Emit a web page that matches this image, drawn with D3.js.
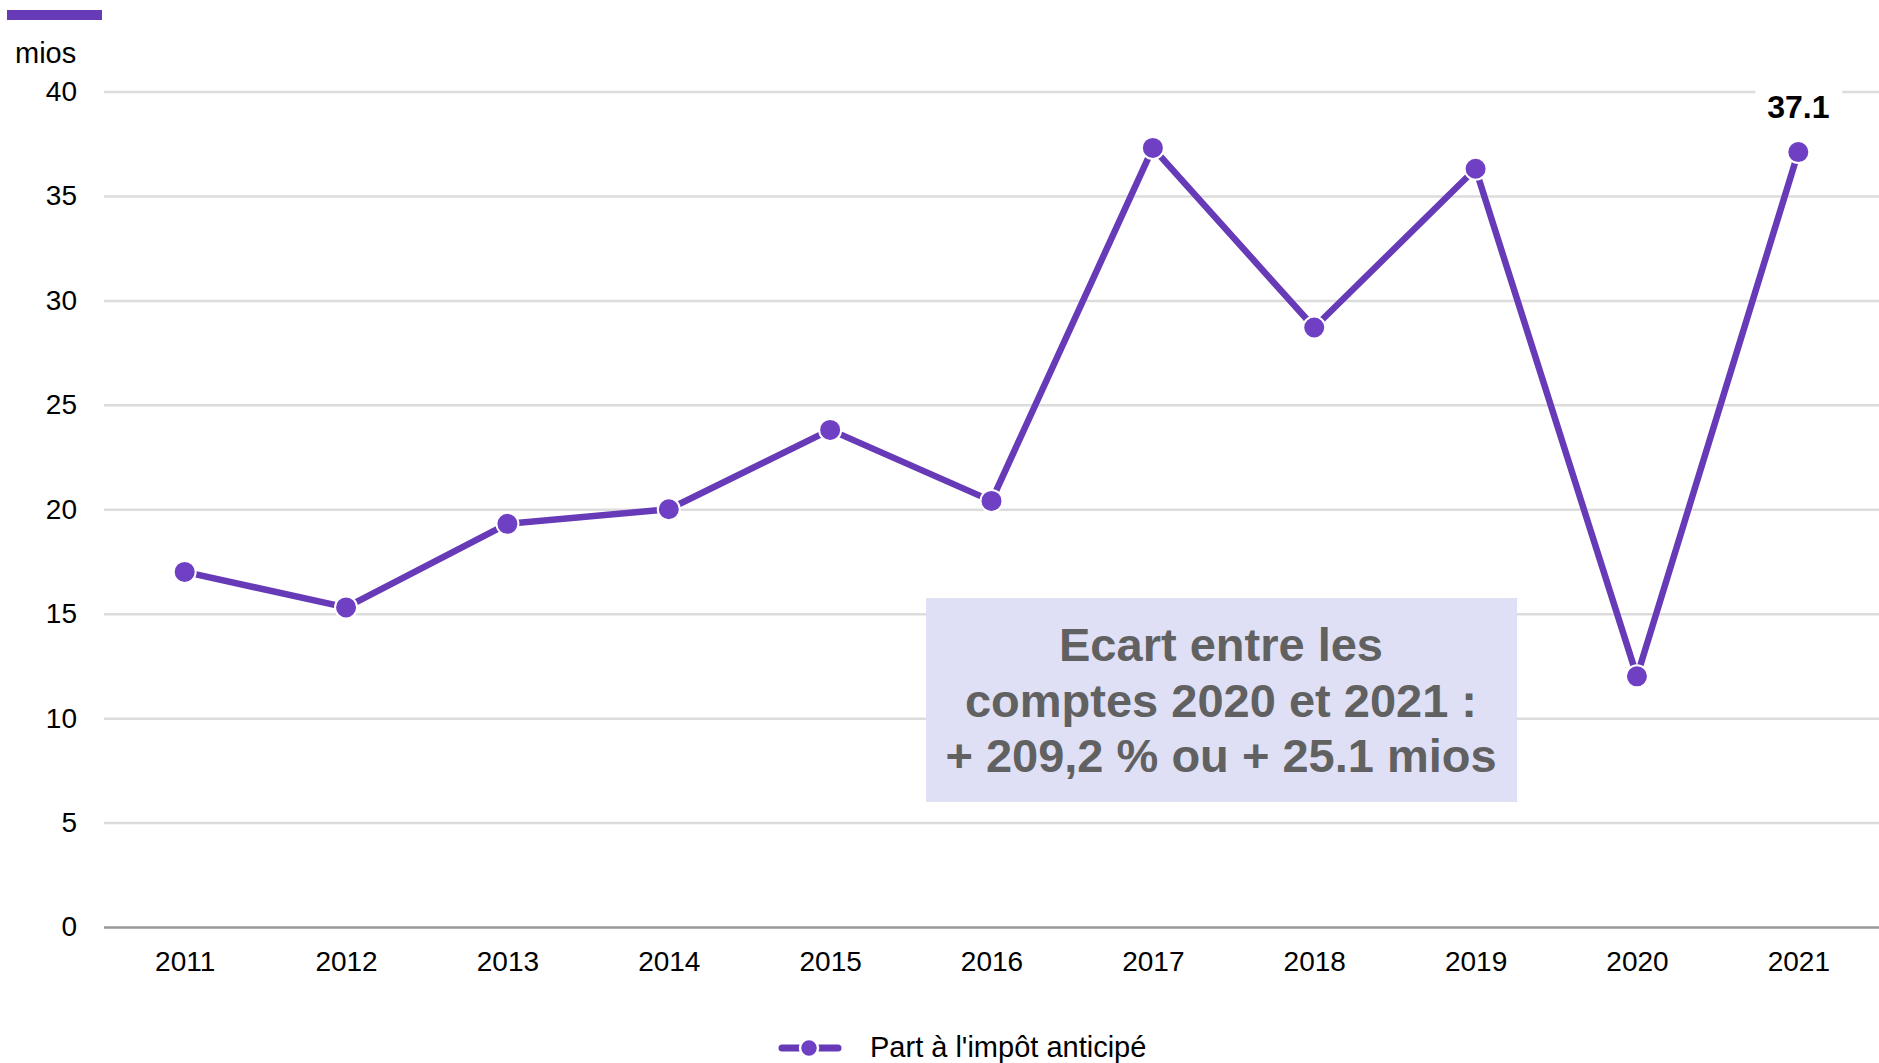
<!DOCTYPE html>
<html>
<head>
<meta charset="utf-8">
<script src="https://cdn.jsdelivr.net/npm/d3@7"></script>
<style>
    html, body { margin: 0; padding: 0; background: #fff; }
    svg { display: block; font-family: "Liberation Sans", Arial, sans-serif; }
</style>
</head>
<body>
<div id="chart"></div>
<script>
    //----- DATA ---------------------------------------//
    var years = ['2011', '2012', '2013', '2014', '2015', '2016', '2017', '2018', '2019', '2020', '2021'];
    var values = [17.0, 15.3, 19.3, 20.0, 23.8, 20.4, 37.3, 28.7, 36.3, 12.0, 37.1];
    var yTicks = [0, 5, 10, 15, 20, 25, 30, 35, 40];
    var seriesName = "Part à l'impôt anticipé";
    var unitLabel = 'mios';
    var noteLines = ['Ecart entre les', 'comptes 2020 et 2021 :', '+ 209,2 % ou + 25.1 mios'];

    //----- SETTINGS -----------------------------------//
    var WIDTH = 1879,
        HEIGHT = 1063,
        PLOT_LEFT = 104,
        PLOT_RIGHT = 1879,
        PLOT_TOP = 91.5,
        PLOT_BOTTOM = 927,
        PURPLE = '#673ab7',
        MARKER = '#7040c4',
        FONT_SIZE = 28;

    var svg = d3.select('#chart').append('svg')
        .attr('width', WIDTH)
        .attr('height', HEIGHT);

    var x = d3.scalePoint()
        .domain(years)
        .range([PLOT_LEFT, PLOT_RIGHT])
        .padding(0.5);

    var y = d3.scaleLinear()
        .domain([0, 40])
        .range([PLOT_BOTTOM, PLOT_TOP]);

    // top-left colour bar
    svg.append('rect')
        .attr('x', 7).attr('y', 10)
        .attr('width', 95).attr('height', 10)
        .attr('fill', PURPLE);

    // unit label
    svg.append('text')
        .attr('x', 15).attr('y', 63)
        .attr('font-size', 29)
        .attr('fill', '#000')
        .text(unitLabel);

    //----- GRID + Y AXIS ------------------------------//
    var yAxis = d3.axisLeft(y)
        .tickValues(yTicks)
        .tickSize(-(PLOT_RIGHT - PLOT_LEFT))
        .tickPadding(27);

    var yg = svg.append('g')
        .attr('transform', 'translate(' + PLOT_LEFT + ',0)')
        .call(yAxis);
    yg.select('.domain').remove();
    yg.selectAll('.tick line')
        .attr('stroke', function (d) { return d === 0 ? '#999' : '#dcdcdc'; })
        .attr('stroke-width', 2.5);
    yg.selectAll('.tick text')
        .attr('font-size', FONT_SIZE)
        .attr('font-family', '"Liberation Sans", Arial, sans-serif')
        .attr('fill', '#000');

    //----- X AXIS -------------------------------------//
    var xg = svg.append('g')
        .attr('transform', 'translate(0,' + PLOT_BOTTOM + ')')
        .call(d3.axisBottom(x).tickSize(0).tickPadding(24));
    xg.select('.domain').remove();
    xg.selectAll('.tick text')
        .attr('font-size', FONT_SIZE)
        .attr('font-family', '"Liberation Sans", Arial, sans-serif')
        .attr('fill', '#000');

    //----- NOTE BOX -----------------------------------//
    var note = svg.append('g');
    note.append('rect')
        .attr('x', 926).attr('y', 598)
        .attr('width', 591).attr('height', 204)
        .attr('fill', '#dfe0f5');
    note.selectAll('text')
        .data(noteLines).enter()
        .append('text')
            .attr('x', 1221)
            .attr('y', function (d, i) { return 661 + i * 55.5; })
            .attr('text-anchor', 'middle')
            .attr('font-size', 47)
            .attr('font-weight', 'bold')
            .attr('fill', '#616161')
            .text(function (d) { return d; });

    //----- LINE + MARKERS -----------------------------//
    var line = d3.line()
        .x(function (d, i) { return x(years[i]); })
        .y(function (d) { return y(d); });

    svg.append('path')
        .datum(values)
        .attr('d', line)
        .attr('fill', 'none')
        .attr('stroke', PURPLE)
        .attr('stroke-width', 6.5)
        .attr('stroke-linejoin', 'round');

    svg.selectAll('circle.point')
        .data(values).enter()
        .append('circle')
            .attr('class', 'point')
            .attr('cx', function (d, i) { return x(years[i]); })
            .attr('cy', function (d) { return y(d); })
            .attr('r', 11)
            .attr('fill', MARKER)
            .attr('stroke', '#fff')
            .attr('stroke-width', 2);

    //----- LAST VALUE LABEL ---------------------------//
    var last = values.length - 1;
    var lx = x(years[last]);
    svg.append('rect')
        .attr('x', lx - 43).attr('y', 84)
        .attr('width', 87).attr('height', 16)
        .attr('fill', '#fff');
    svg.append('text')
        .attr('x', lx)
        .attr('y', 118)
        .attr('text-anchor', 'middle')
        .attr('font-size', 32)
        .attr('font-weight', 'bold')
        .attr('fill', '#000')
        .text(d3.format('.1f')(values[last]));

    //----- LEGEND -------------------------------------//
    var legend = svg.append('g').attr('transform', 'translate(809,1048)');
    legend.append('line')
        .attr('x1', -27).attr('x2', 29)
        .attr('stroke', PURPLE)
        .attr('stroke-width', 7)
        .attr('stroke-linecap', 'round');
    legend.append('circle')
        .attr('r', 9)
        .attr('fill', MARKER)
        .attr('stroke', '#fff')
        .attr('stroke-width', 2.5);
    legend.append('text')
        .attr('x', 61)
        .attr('y', 9)
        .attr('font-size', 29)
        .attr('fill', '#000')
        .text(seriesName);
</script>
</body>
</html>
